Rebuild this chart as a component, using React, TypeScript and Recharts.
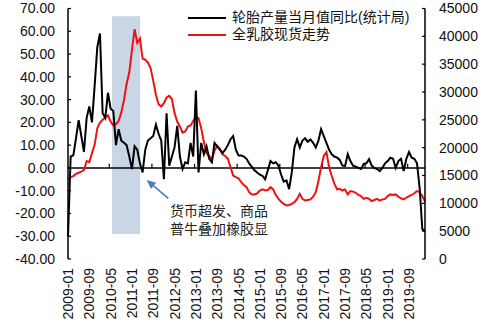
import React from "react";
import {
  LineChart,
  Line,
  XAxis,
  YAxis,
  ReferenceArea,
  ReferenceLine,
} from "recharts";

// monthly, 2009-01 .. 2020-03
const months = Array.from({ length: 135 }, (_, i) => {
  const y = 2009 + Math.floor(i / 12);
  const m = String((i % 12) + 1).padStart(2, "0");
  return `${y}-${m}`;
});

// 轮胎产量当月值同比 (%), left axis
const tireYoY = [
  -30, 5, 5.5, 13, 21, 14, 7, 22, 27, 20,
  36, 53, 59, 24, 22, 33, 26, 25, 10, 17,
  12, 11, 10, 5, -0.5, 9.5, 8, 2, -2, 8,
  12, 13, 14, 19, 15, 12, -5, 24, 1, 5,
  9, 18.5, 5, -0.5, 2.5, 2, 11, 5, 34, -2,
  11, 6, 9.5, 4, 2.5, 11, 9.5, 8, 6.5, 8,
  10, 12.6, 14, 8, 5.5, 5.5, 5, 4, 2, 0.5,
  -1, -2, -3, -3.5, -5, -1, 3, 2, 2.5, 1,
  -3, -6, -5.5, -9.3, -2, 9, 12.6, 9, 12, 13,
  11.5, 12.5, 11, 9, 12, 17, 14, 11, 8, 6,
  5, 4.5, 3.5, 1, 0.9, 6, 3, 1, 0.5, 0,
  -0.5, 1.8, 2, 3.8, 1, 0, -0.5, -1.4, 0, 2,
  3, 4.5, 4, 0, 3, 4, -1.4, 4, 7, 4.5,
  4, 2, -9, -27, -27.5,
];

// 全乳胶现货 (元/吨), right axis
const rubberPrice = [
  14300, 14700, 14900, 15300, 15500, 15700, 16000, 17600, 17400, 19000,
  20500, 23500, 24500, 25000, 25400, 25800, 24700, 24000, 24200, 24800,
  26300, 28500, 31500, 33500, 37500, 41300, 38800, 39600, 36000, 35800,
  35300, 34300, 32000, 29500, 27800, 27400, 28000, 29000, 29300, 28700,
  26200, 24700, 23800, 22700, 22900, 23800, 24000, 24800, 25500, 25300,
  23500, 21000, 19000, 18500, 17900, 19500, 20300, 19800, 18800, 18500,
  18000, 16500, 15000, 14700, 14500, 13800, 13300, 12900, 12000, 11600,
  11600, 11800, 12300, 12500, 12300, 12400, 12900, 12500, 11500, 10800,
  10300, 9900, 9600, 9700, 9900, 10200, 10800, 11700, 10800, 10500,
  10600, 10700, 11200, 12000, 14000, 16500, 18500, 19200, 16500, 14900,
  13500, 12500, 12600, 12300, 12500, 11600, 12200, 12100, 11900, 11500,
  11300, 10800, 11000, 10800, 10400, 10600, 10800, 10500, 10700, 10800,
  11300, 11600, 11500, 11600, 11200, 10900, 10700, 11000, 11300, 11500,
  11800, 12200, 12000, 11300, 10300,
];

const tickLabels = [
  "2009-01", "2009-09", "2010-05", "2011-01", "2011-09", "2012-05",
  "2013-01", "2013-09", "2014-05", "2015-01", "2015-09", "2016-05",
  "2017-01", "2017-09", "2018-05", "2019-01", "2019-09",
];
const leftTicks = [-40, -30, -20, -10, 0, 10, 20, 30, 40, 50, 60, 70];
const rightTicks = [0, 5000, 10000, 15000, 20000, 25000, 30000, 35000, 40000, 45000];

// small marks on the zero line, every 16 months
const zeroMarks = [15.5, 31.5, 47.5, 63.5, 79.5, 95.5, 111.5, 127.5];

const data = months.map((m, i) => ({
  idx: i,
  month: m,
  tire: tireYoY[i],
  rubber: rubberPrice[i],
}));
const tickIdx = tickLabels.map((t) => months.indexOf(t));

const FONT = 'Arial, "Liberation Sans", "Noto Sans CJK SC", sans-serif';
const RED = "#ee1111";

const DateTick = (props: any) => {
  const { x, y, payload } = props;
  return (
    <text
      x={x}
      y={y}
      transform={`rotate(-90, ${x}, ${y})`}
      textAnchor="end"
      dominantBaseline="central"
      fontSize={14}
      fontFamily={FONT}
      fill="#111"
    >
      {months[payload.value]}
    </text>
  );
};

export default function App() {
  return (
    <div style={{ position: "absolute", left: 0, top: 0, width: 493, height: 328, background: "#fff" }}>
      <LineChart
        width={493}
        height={328}
        data={data}
        margin={{ top: 8.5, right: 0, bottom: 0, left: 0 }}
      >
        <ReferenceArea
          yAxisId="left"
          x1={16.5}
          x2={27.1}
          y1={-29}
          y2={66.6}
          fill="#c9d6e6"
          fillOpacity={1}
          stroke="none"
        />
        <XAxis
          dataKey="idx"
          type="number"
          domain={[0, 134]}
          ticks={tickIdx}
          interval={0}
          height={69}
          axisLine={false}
          tickLine={false}
          tickSize={0}
          tickMargin={9}
          tick={<DateTick />}
        />
        <YAxis
          yAxisId="left"
          orientation="left"
          width={68}
          domain={[-40, 70]}
          ticks={leftTicks}
          interval={0}
          tickFormatter={(v: number) => v.toFixed(2)}
          axisLine={{ stroke: "#000", strokeWidth: 1.5 }}
          tickLine={{ stroke: "#000", strokeWidth: 1.2 }}
          tickSize={-3}
          tickMargin={16}
          tick={{ fill: "#111", fontSize: 14, fontFamily: FONT }}
        />
        <YAxis
          yAxisId="right"
          orientation="right"
          width={68}
          domain={[0, 45000]}
          ticks={rightTicks}
          interval={0}
          axisLine={{ stroke: "#000", strokeWidth: 1.5 }}
          tickLine={{ stroke: "#000", strokeWidth: 1.2 }}
          tickSize={-3}
          tickMargin={17}
          tick={{ fill: "#111", fontSize: 14, fontFamily: FONT, textAnchor: "start" }}
        />
        <ReferenceLine yAxisId="left" y={0} stroke="#000" strokeWidth={1.5} />
        {zeroMarks.map((t) => (
          <ReferenceLine
            key={t}
            yAxisId="left"
            segment={[
              { x: t, y: 0 },
              { x: t, y: 1.8 },
            ]}
            stroke="#000"
            strokeWidth={1.2}
          />
        ))}
        <Line
          yAxisId="right"
          dataKey="rubber"
          stroke={RED}
          strokeWidth={2}
          dot={false}
          isAnimationActive={false}
        />
        <Line
          yAxisId="left"
          dataKey="tire"
          stroke="#000"
          strokeWidth={2}
          dot={false}
          isAnimationActive={false}
        />
      </LineChart>

      {/* legend */}
      <div style={{ position: "absolute", left: 188, top: 9, fontFamily: FONT, fontSize: 14, color: "#111" }}>
        {[
          { label: "轮胎产量当月值同比(统计局)", color: "#000" },
          { label: "全乳胶现货走势", color: RED },
        ].map((it) => (
          <div key={it.label} style={{ display: "flex", alignItems: "center", height: 17, whiteSpace: "nowrap" }}>
            <span style={{ display: "inline-block", width: 38, height: 2, background: it.color, marginRight: 6 }} />
            <span style={{ lineHeight: "17px" }}>{it.label}</span>
          </div>
        ))}
      </div>

      {/* annotation */}
      <svg style={{ position: "absolute", left: 0, top: 0 }} width={493} height={328}>
        <line x1={168.3} y1={198.3} x2={153.6} y2={185.8} stroke="#4f7bbd" strokeWidth={1.6} />
        <polygon points="146.7,180 156.2,182.8 151.0,188.9" fill="#4f7bbd" />
      </svg>
      <div
        style={{
          position: "absolute",
          left: 170,
          top: 202,
          fontFamily: FONT,
          fontSize: 14,
          lineHeight: "18px",
          color: "#222",
          whiteSpace: "nowrap",
        }}
      >
        <div>货币超发、商品</div>
        <div>普牛叠加橡胶显</div>
      </div>
    </div>
  );
}
